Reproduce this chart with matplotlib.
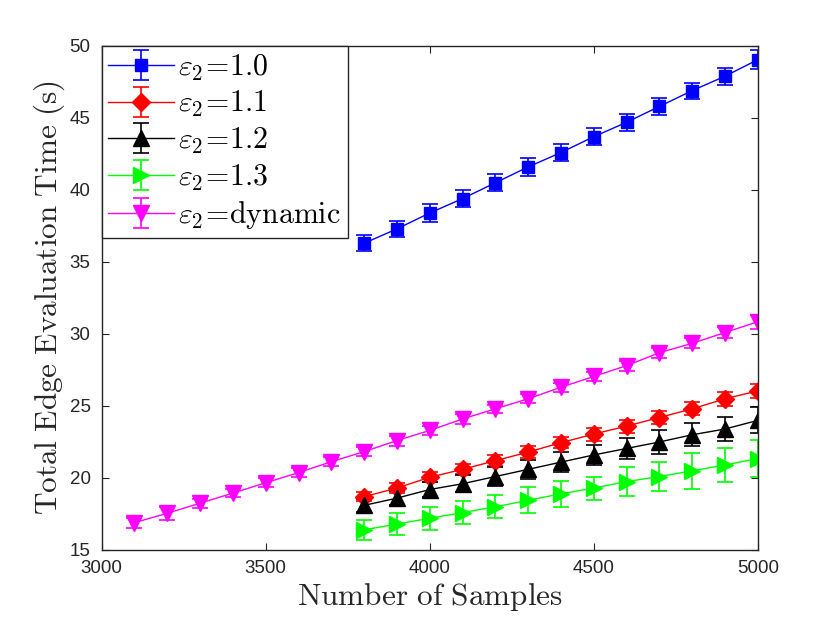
import numpy as np
import matplotlib
matplotlib.use("Agg")
import matplotlib.pyplot as plt

plt.rcParams["mathtext.fontset"] = "cm"
plt.rcParams["font.family"] = ["Liberation Sans", "DejaVu Sans"]

# samples on the x axis
x_dyn = [3100, 3200, 3300, 3400, 3500, 3600, 3700, 3800, 3900, 4000,
         4100, 4200, 4300, 4400, 4500, 4600, 4700, 4800, 4900, 5000]
x_fix = [3800, 3900, 4000, 4100, 4200, 4300, 4400, 4500, 4600, 4700, 4800, 4900, 5000]

# eps2 = 1.0
t_10 = [36.3, 37.3, 38.4, 39.4, 40.5, 41.6, 42.6, 43.7, 44.7, 45.8, 46.9, 47.9, 49.05]
e_10 = [0.55, 0.55, 0.6, 0.6, 0.6, 0.6, 0.6, 0.6, 0.6, 0.6, 0.55, 0.6, 0.65]
# eps2 = 1.1
t_11 = [18.7, 19.3, 20.05, 20.6, 21.2, 21.8, 22.45, 23.05, 23.6, 24.2, 24.8, 25.5, 26.05]
e_11 = [0.3, 0.35, 0.35, 0.35, 0.4, 0.4, 0.4, 0.45, 0.45, 0.45, 0.45, 0.5, 0.5]
# eps2 = 1.2
t_12 = [18.1, 18.6, 19.2, 19.6, 20.1, 20.6, 21.1, 21.6, 22.05, 22.5, 23.0, 23.4, 24.0]
e_12 = [0.45, 0.5, 0.55, 0.6, 0.65, 0.65, 0.7, 0.7, 0.75, 0.8, 0.8, 0.85, 0.9]
# eps2 = 1.3
t_13 = [16.4, 16.8, 17.2, 17.6, 18.0, 18.45, 18.9, 19.3, 19.75, 20.1, 20.5, 20.9, 21.35]
e_13 = [0.7, 0.75, 0.8, 0.8, 0.8, 0.9, 0.9, 0.8, 1.0, 1.0, 1.25, 1.2, 1.3]
# eps2 = dynamic
t_dyn = [16.9, 17.55, 18.25, 18.95, 19.67, 20.37, 21.13, 21.83, 22.6, 23.3,
         24.1, 24.8, 25.5, 26.3, 27.05, 27.8, 28.7, 29.35, 30.1, 30.85]
e_dyn = [0.35, 0.45, 0.3, 0.3, 0.3, 0.3, 0.3, 0.3, 0.35, 0.3,
         0.35, 0.3, 0.3, 0.3, 0.3, 0.35, 0.35, 0.35, 0.4, 0.5]

fig = plt.figure(figsize=(8.3, 6.23), dpi=100)
ax = fig.add_axes([0.1225, 0.1172, 0.7905, 0.8090])

series = [
    (x_fix, t_10, e_10, "#0000FF", "s", 8.5, r"$\varepsilon_2\!=\!\mathrm{1.0}$"),
    (x_fix, t_11, e_11, "#FF0000", "D", 9.5, r"$\varepsilon_2\!=\!\mathrm{1.1}$"),
    (x_fix, t_12, e_12, "#000000", "^", 11, r"$\varepsilon_2\!=\!\mathrm{1.2}$"),
    (x_fix, t_13, e_13, "#00FF00", ">", 11, r"$\varepsilon_2\!=\!\mathrm{1.3}$"),
    (x_dyn, t_dyn, e_dyn, "#FF00FF", "v", 11, r"$\varepsilon_2\!=\!\mathrm{dynamic}$"),
]
for xs, ys, es, col, mk, ms, lab in series:
    ax.errorbar(xs, ys, yerr=es, color=col, marker=mk, markersize=ms,
                markerfacecolor=col, markeredgecolor=col, linewidth=1.0,
                elinewidth=1.2, capsize=6, capthick=1.2, label=lab)

ax.set_xlim(3000, 5000)
ax.set_ylim(15, 50)
ax.set_xticks([3000, 3500, 4000, 4500, 5000])
ax.set_yticks([15, 20, 25, 30, 35, 40, 45, 50])
ax.tick_params(direction="in", top=True, right=True, labelsize=13.5,
               colors="#262626", length=5, width=0.8)
ax.tick_params(axis="x", pad=7)
ax.tick_params(axis="y", pad=8)
for sp in ax.spines.values():
    sp.set_color("#262626")
    sp.set_linewidth(1.0)

ax.set_xlabel(r"$\mathrm{Number\ of\ Samples}$", fontsize=22.5, color="#262626", labelpad=3)
ax.set_ylabel(r"$\mathrm{Total\ Edge\ Evaluation\ Time\ (s)}$", fontsize=22.5, color="#262626", labelpad=2)

leg = ax.legend(loc="upper left", fontsize=21.5, fancybox=False, framealpha=1,
                edgecolor="#262626", borderaxespad=0, handlelength=2.2,
                handletextpad=0.15, labelspacing=0.22, borderpad=0.22)
leg.get_frame().set_linewidth(1.0)

fig.savefig("out.png", dpi=100)
